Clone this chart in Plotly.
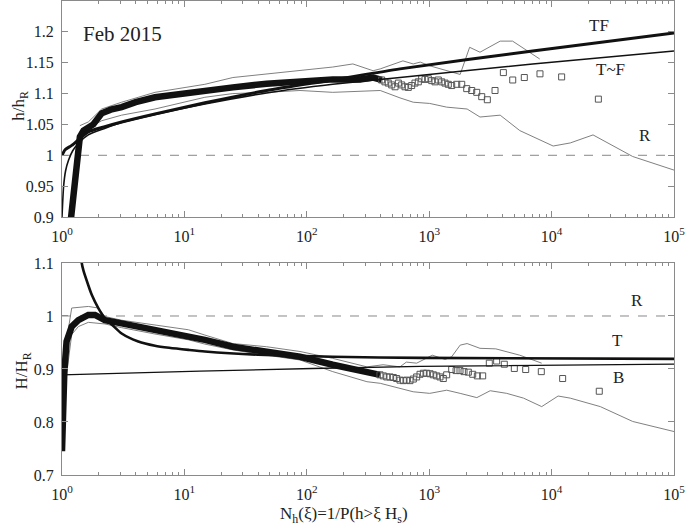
import plotly.graph_objects as go

# ---------------- TOP PANEL (h/h_R) ----------------
top_dense_N = [1.18, 1.3, 1.4, 1.5, 1.64, 1.8, 2.11, 2.5, 3.07, 4.0, 5.75, 8.0, 10.7, 14.7,
               24.9, 47, 88, 163, 272, 348, 409]
top_dense_v = [0.895, 0.975, 1.03, 1.04, 1.046, 1.05, 1.068, 1.074, 1.078, 1.086, 1.094, 1.098,
               1.100, 1.105, 1.110, 1.116, 1.120, 1.123, 1.123, 1.126, 1.122]

top_sq_N = [409, 435, 463, 494, 526, 560, 596, 634, 675, 719, 765, 815, 868, 924, 984, 1048,
            1115, 1187, 1265, 1346, 1433, 1527, 1678, 1844, 2025, 2225, 2445, 2686, 2985,
            3450, 4036, 4812, 5985, 8037, 12080, 24100]
top_sq_v = [1.122, 1.119, 1.117, 1.114, 1.111, 1.117, 1.114, 1.111, 1.110, 1.113, 1.117, 1.119,
            1.124, 1.123, 1.124, 1.121, 1.119, 1.122, 1.119, 1.117, 1.115, 1.113, 1.115, 1.115,
            1.108, 1.105, 1.102, 1.095, 1.090, 1.105, 1.134, 1.122, 1.126, 1.132, 1.127, 1.091]

top_up_N = [1.40, 1.64, 2.11, 3.07, 5.75, 14.7, 24.9, 47, 88, 163, 238, 348, 398, 577, 610,
            740, 845, 1010, 1390, 1790, 2140, 2600, 3800, 4800, 8000]
top_up_v = [1.048, 1.054, 1.075, 1.086, 1.102, 1.115, 1.126, 1.132, 1.137, 1.143, 1.148, 1.137,
            1.140, 1.151, 1.153, 1.148, 1.151, 1.145, 1.137, 1.131, 1.175, 1.167, 1.185, 1.185,
            1.156]

top_lo_N = [1.45, 2.11, 3.07, 5.75, 14.7, 24.9, 47, 88, 163, 310, 398, 577, 740, 1010, 1390,
            2040, 2600, 3800, 5500, 10300, 14200, 21800, 46000, 100000]
top_lo_v = [1.038, 1.056, 1.065, 1.075, 1.094, 1.100, 1.102, 1.105, 1.102, 1.105, 1.105, 1.093,
            1.086, 1.084, 1.078, 1.075, 1.062, 1.065, 1.040, 1.015, 1.020, 1.033, 0.998, 0.976]

TF_N = [1.0, 1.06, 1.2, 1.64, 2.2, 3.07, 5.75, 14.7, 47, 163, 577, 7000, 100000]
TF_v = [1.0, 1.009, 1.016, 1.038, 1.046, 1.054, 1.067, 1.085, 1.105, 1.122, 1.140, 1.169, 1.198]

TtF_N = [1.0, 1.03, 1.07, 1.13, 1.22, 1.36, 1.64, 2.2, 3.07, 5.75, 14.7, 47, 163, 577, 7000, 100000]
TtF_v = [0.9, 0.949, 0.975, 0.992, 1.007, 1.019, 1.033, 1.043, 1.053, 1.066, 1.083, 1.101,
         1.115, 1.126, 1.148, 1.169]

# ---------------- BOTTOM PANEL (H/H_R) ----------------
bot_dense_N = [1.0, 1.02, 1.045, 1.09, 1.2, 1.36, 1.64, 1.86, 2.24, 3.07, 4.2, 5.75, 7.9, 10.8,
               14.7, 24.9, 47, 88, 163, 310, 396]
bot_dense_v = [0.745, 0.832, 0.895, 0.952, 0.980, 0.992, 1.002, 1.002, 0.992, 0.986, 0.980,
               0.974, 0.970, 0.964, 0.955, 0.942, 0.933, 0.923, 0.908, 0.895, 0.889]

bot_sq_N = [396, 422, 450, 478, 509, 542, 577, 615, 654, 697, 742, 790, 841, 896, 954, 1016,
            1081, 1151, 1225, 1304, 1389, 1527, 1657, 1785, 1925, 2089, 2267, 2473, 2735, 3098,
            3557, 4108, 4959, 6142, 8238, 12310, 24520]
bot_sq_v = [0.889, 0.887, 0.885, 0.885, 0.884, 0.882, 0.879, 0.878, 0.879, 0.878, 0.881, 0.885,
            0.890, 0.892, 0.892, 0.891, 0.889, 0.887, 0.885, 0.882, 0.889, 0.899, 0.897, 0.897,
            0.895, 0.894, 0.890, 0.887, 0.887, 0.911, 0.915, 0.909, 0.901, 0.899, 0.895, 0.882,
            0.858]

bot_up_N = [1.05, 1.2, 1.64, 1.98, 2.24, 3.07, 5.75, 10.8, 14.7, 24.9, 47, 88, 163, 310, 420,
            577, 650, 790, 1060, 1350, 1525, 1790, 2040, 2600, 3500, 5500, 8300]
bot_up_v = [0.93, 1.015, 1.018, 1.015, 0.999, 0.992, 0.983, 0.974, 0.964, 0.948, 0.942, 0.933,
            0.920, 0.904, 0.908, 0.904, 0.913, 0.911, 0.926, 0.918, 0.923, 0.945, 0.948, 0.939,
            0.938, 0.926, 0.911]

bot_lo_N = [1.05, 1.2, 1.36, 1.64, 2.24, 3.07, 5.75, 10.8, 14.7, 24.9, 47, 88, 163, 310, 398,
            577, 740, 1010, 1390, 1790, 2450, 3150, 4300, 5900, 8300, 11300, 14200, 25000,
            46000, 100000]
bot_lo_v = [0.86, 0.965, 0.980, 0.988, 0.985, 0.978, 0.966, 0.955, 0.947, 0.936, 0.926, 0.917,
            0.895, 0.876, 0.873, 0.864, 0.857, 0.854, 0.860, 0.854, 0.846, 0.859, 0.854, 0.845,
            0.829, 0.849, 0.845, 0.829, 0.801, 0.782]

T_N = [1.3, 1.38, 1.45, 1.5, 1.64, 1.75, 1.98, 2.24, 2.6, 3.07, 4.2, 5.75, 7.5, 10.8, 14.7,
       40, 163, 845, 100000]
T_v = [1.30, 1.17, 1.10, 1.085, 1.058, 1.04, 1.015, 0.996, 0.982, 0.967, 0.952, 0.944, 0.940,
       0.936, 0.933, 0.927, 0.923, 0.921, 0.919]

B_N = [1.0, 13.4, 845, 100000]
B_v = [0.889, 0.896, 0.905, 0.909]

R_N = [1.0, 100000]
R_v = [1.0, 1.0]

xt_vals = [1, 10, 100, 1000, 10000, 100000]
xt_text = ["10<sup>0</sup>", "10<sup>1</sup>", "10<sup>2</sup>", "10<sup>3</sup>",
           "10<sup>4</sup>", "10<sup>5</sup>"]
x_minor = [k * 10 ** d for d in range(5) for k in range(2, 10)]
yt_top = [0.9, 0.95, 1.0, 1.05, 1.1, 1.15, 1.2]
yt_top_text = ["0.9", "0.95", "1", "1.05", "1.1", "1.15", "1.2"]
yt_bot = [0.7, 0.8, 0.9, 1.0, 1.1]
yt_bot_text = ["0.7", "0.8", "0.9", "1", "1.1"]

DARK = "#111111"
GRAY = "#808080"
SQ = "#555555"

fig = go.Figure()


def add_panel(xa, ya, dense_N, dense_v, sq_N, sq_v, up_N, up_v, lo_N, lo_v):
    fig.add_trace(go.Scatter(x=R_N, y=R_v, xaxis=xa, yaxis=ya, mode="lines",
                             line=dict(color="#888888", width=1, dash="dash")))
    fig.add_trace(go.Scatter(x=up_N, y=up_v, xaxis=xa, yaxis=ya, mode="lines",
                             line=dict(color=GRAY, width=1)))
    fig.add_trace(go.Scatter(x=lo_N, y=lo_v, xaxis=xa, yaxis=ya, mode="lines",
                             line=dict(color=GRAY, width=1)))
    fig.add_trace(go.Scatter(x=dense_N, y=dense_v, xaxis=xa, yaxis=ya, mode="lines",
                             line=dict(color=DARK, width=6.5)))
    fig.add_trace(go.Scatter(x=sq_N, y=sq_v, xaxis=xa, yaxis=ya, mode="markers",
                             marker=dict(symbol="square-open", size=6,
                                         color=SQ, line=dict(width=1, color=SQ)),
                             cliponaxis=True))


# top panel
add_panel("x", "y", top_dense_N, top_dense_v, top_sq_N, top_sq_v,
          top_up_N, top_up_v, top_lo_N, top_lo_v)
fig.add_trace(go.Scatter(x=TF_N, y=TF_v, xaxis="x", yaxis="y", mode="lines",
                         line=dict(color=DARK, width=3, shape="spline", smoothing=0.6)))
fig.add_trace(go.Scatter(x=TtF_N, y=TtF_v, xaxis="x", yaxis="y", mode="lines",
                         line=dict(color=DARK, width=1.6, shape="spline", smoothing=0.6)))

# bottom panel
add_panel("x2", "y2", bot_dense_N, bot_dense_v, bot_sq_N, bot_sq_v,
          bot_up_N, bot_up_v, bot_lo_N, bot_lo_v)
fig.add_trace(go.Scatter(x=T_N, y=T_v, xaxis="x2", yaxis="y2", mode="lines",
                         line=dict(color=DARK, width=2.6, shape="spline", smoothing=0.6)))
fig.add_trace(go.Scatter(x=B_N, y=B_v, xaxis="x2", yaxis="y2", mode="lines",
                         line=dict(color=DARK, width=1.3, shape="spline", smoothing=0.6)))

FONT = "Liberation Serif"
TXT = "#222222"
FRAME = "#8a8a8a"

xcommon = dict(type="log", range=[0, 5], tickmode="array", tickvals=xt_vals, ticktext=xt_text,
               ticks="inside", ticklen=6, tickcolor=FRAME, showline=True, linecolor=FRAME,
               linewidth=1, mirror="allticks", showgrid=False, zeroline=False,
               automargin=False, ticklabelstandoff=5, ticklabeloverflow="allow",
               tickfont=dict(family=FONT, size=16, color=TXT),
               minor=dict(tickvals=x_minor, ticks="inside", ticklen=3, tickcolor=FRAME,
                          showgrid=False))
ycommon = dict(ticks="inside", ticklen=6, tickcolor=FRAME, showline=True, linecolor=FRAME,
               linewidth=1, mirror="allticks", showgrid=False, zeroline=False,
               automargin=False, ticklabelstandoff=4, ticklabeloverflow="allow",
               tickfont=dict(family=FONT, size=16, color=TXT), tickmode="array")

fig.update_layout(
    width=685, height=528,
    margin=dict(l=62, r=11, t=1, b=53, autoexpand=False),
    paper_bgcolor="white", plot_bgcolor="white",
    showlegend=False,
    xaxis=dict(xcommon, anchor="y", domain=[0, 1]),
    yaxis=dict(ycommon, anchor="x", domain=[0.5443, 1.0], range=[0.9, 1.25],
               tickvals=yt_top, ticktext=yt_top_text),
    xaxis2=dict(xcommon, anchor="y2", domain=[0, 1]),
    yaxis2=dict(ycommon, anchor="x2", domain=[0, 0.4473], range=[0.7, 1.1],
                tickvals=yt_bot, ticktext=yt_bot_text),
)

ann_font = dict(family=FONT, size=17, color=TXT)
C = dict(showarrow=False, xanchor="center", yanchor="middle")
annotations = [
    dict(C, x=0.498, y=1.197, xref="x", yref="y", text="Feb 2015",
         font=dict(family=FONT, size=21, color=TXT)),
    dict(C, x=4.387, y=1.2097, xref="x", yref="y", text="TF", font=ann_font),
    dict(C, x=4.481, y=1.1387, xref="x", yref="y", text="T~F", font=ann_font),
    dict(C, x=4.767, y=1.032, xref="x", yref="y", text="R", font=ann_font),
    dict(C, x=4.695, y=1.030, xref="x2", yref="y2", text="R", font=ann_font),
    dict(C, x=4.542, y=0.953, xref="x2", yref="y2", text="T", font=ann_font),
    dict(C, x=4.548, y=0.884, xref="x2", yref="y2", text="B", font=ann_font),
    dict(C, x=-0.068, y=0.78, xref="paper", yref="paper", text="h/h<sub>R</sub>",
         textangle=-90, font=ann_font),
    dict(C, x=-0.064, y=0.22, xref="paper", yref="paper", text="H/H<sub>R</sub>",
         textangle=-90, font=ann_font),
    dict(C, x=0.46, y=-0.085, xref="paper", yref="paper",
         text="N<sub>h</sub>(ξ)=1/P(h>ξ H<sub>s</sub>)", font=ann_font),
]
fig.update_layout(annotations=annotations)

fig.write_html("out.html", config={"displayModeBar": False},
               post_script="document.body.style.margin='0';document.body.style.padding='0';")
